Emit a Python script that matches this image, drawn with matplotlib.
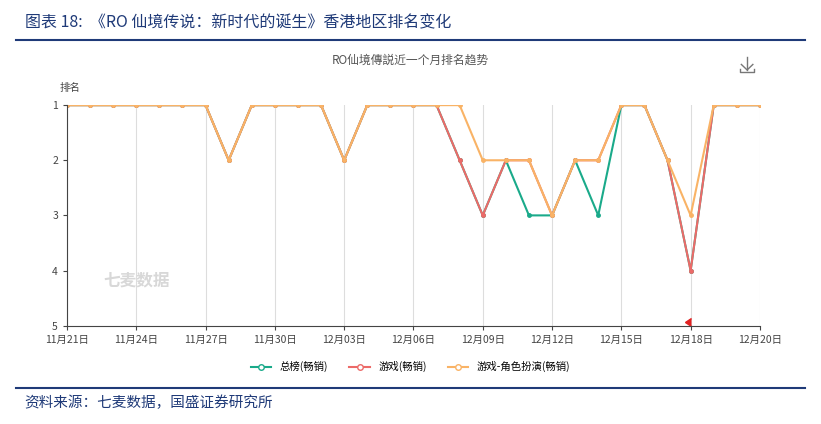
import matplotlib.pyplot as plt
from matplotlib.lines import Line2D

plt.rcParams['font.family'] = ['Noto Sans CJK SC', 'DejaVu Sans']

tick_labels = ['11月21日', '11月24日', '11月27日', '11月30日', '12月03日', '12月06日',
               '12月09日', '12月12日', '12月15日', '12月18日', '12月20日']
total = [1, 1, 1, 1, 1, 1, 1, 2, 1, 1, 1, 1, 2, 1, 1, 1, 1, 2, 3, 2, 3, 3, 2, 3, 1, 1, 2, 4, 1, 1, 1]
game = [1, 1, 1, 1, 1, 1, 1, 2, 1, 1, 1, 1, 2, 1, 1, 1, 1, 2, 3, 2, 2, 3, 2, 2, 1, 1, 2, 4, 1, 1, 1]
rpg = [1, 1, 1, 1, 1, 1, 1, 2, 1, 1, 1, 1, 2, 1, 1, 1, 1, 1, 2, 2, 2, 3, 2, 2, 1, 1, 2, 3, 1, 1, 1]
names = ['总榜(畅销)', '游戏(畅销)', '游戏-角色扮演(畅销)']
colors = ['#1aaa8a', '#ec6a68', '#f9b366']

fig = plt.figure(figsize=(8.21, 4.24), dpi=100)
fig.text(0.03, 0.945, '图表 18:  《RO 仙境传说：新时代的诞生》香港地区排名变化', fontsize=11.5,
         style='italic', color='#1f3a78', va='center')
fig.add_artist(Line2D([0.02, 0.98], [0.905, 0.905], color='#1f3a78', lw=1.5))
fig.add_artist(Line2D([0.02, 0.98], [0.085, 0.085], color='#1f3a78', lw=1.5))
fig.text(0.03, 0.05, '资料来源：七麦数据，国盛证券研究所', fontsize=10.5, style='italic',
         color='#1f3a78', va='center')
fig.text(0.5, 0.85, 'RO仙境傳説近一个月排名趋势', fontsize=8.5, color='#555555', ha='center')

# download icon
ic = '#777777'
fig.add_artist(Line2D([0.910, 0.910], [0.865, 0.835], color=ic, lw=1))
fig.add_artist(Line2D([0.903, 0.910, 0.917], [0.848, 0.835, 0.848], color=ic, lw=1))
fig.add_artist(Line2D([0.901, 0.901, 0.919, 0.919], [0.838, 0.830, 0.830, 0.838], color=ic, lw=1))

ax = fig.add_axes([0.0816, 0.232, 0.844, 0.52])
x = list(range(len(total)))
for ys, c in zip([total, game, rpg], colors):
    ax.plot(x, ys, color=c, lw=1.5, marker='o', ms=2.5)
ax.set_ylim(5, 1)
ax.set_xlim(0, 30)
ax.set_yticks([1, 2, 3, 4, 5])
ax.set_xticks(range(0, 31, 3))
ax.set_xticklabels(tick_labels)
ax.tick_params(labelsize=7.5, colors='#444444', length=3)
ax.grid(axis='x', color='#dddddd', lw=0.8)
for s in ['top', 'right']:
    ax.spines[s].set_visible(False)
for s in ['left', 'bottom']:
    ax.spines[s].set_color('#444444')
ax.text(-0.3, 0.75, '排名', fontsize=7.5, color='#444444')
ax.text(0.1, 0.18, '七麦数据', transform=ax.transAxes, fontsize=12, color='#d8d8d8',
        fontweight='bold', ha='center')
ax.plot([27], [4.93], marker=8, color='#e02020', ms=6, clip_on=False)

handles = [Line2D([], [], color=c, marker='o', ms=4, mfc='white', lw=1.5) for c in colors]
fig.legend(handles, names, loc='center', bbox_to_anchor=(0.5, 0.135), ncol=3,
           frameon=False, fontsize=7.5, handlelength=2, columnspacing=2)

fig.savefig('out.png', dpi=100)
